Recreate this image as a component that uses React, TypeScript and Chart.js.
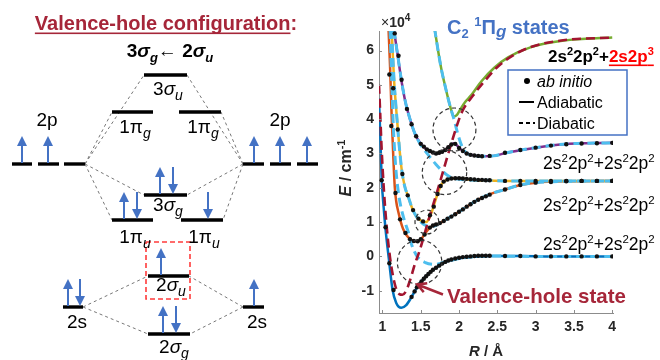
import React, { useEffect, useRef } from "react";
import { Chart, registerables } from "chart.js";

Chart.register(...registerables);

const FONT = "'Liberation Sans', Arial, Helvetica, sans-serif";

/* ================= Right panel data: C2 1Πg states, E in 10^4 cm^-1, R in Å ================= */
const xTicks = [1, 1.5, 2, 2.5, 3, 3.5, 4];
const yTicks = [-1, 0, 1, 2, 3, 4, 5, 6];

// adiabatic curves (solid)
const blueR = [0.955, 0.975, 0.99, 1.015, 1.04, 1.09, 1.13, 1.18, 1.246, 1.31, 1.376, 1.46, 1.55, 1.64, 1.81, 2.0, 2.2, 2.4, 2.8, 3.2, 4.0];
const blueE = [4.6, 3.3, 2.25, 1.45, 0.8, -0.2, -0.95, -1.36, -1.5, -1.42, -1.2, -0.87, -0.62, -0.43, -0.18, -0.06, -0.01, 0.01, 0.01, 0.0, 0.0];

const orangeR = [1.08, 1.1, 1.12, 1.14, 1.16, 1.18, 1.21, 1.24, 1.27, 1.32, 1.37, 1.42, 1.46, 1.51, 1.56, 1.61, 1.66, 1.75, 1.85, 2.0, 2.1, 2.27, 2.45, 2.6, 2.8, 3.0, 3.4, 4.0];
const orangeE = [6.6, 5.5, 4.1, 3.0, 2.05, 1.6, 1.27, 1.0, 0.8, 0.6, 0.49, 0.44, 0.44, 0.52, 0.68, 0.82, 0.9, 0.97, 1.1, 1.3, 1.45, 1.68, 1.85, 1.95, 2.08, 2.15, 2.19, 2.2];

const yellowR = [1.12, 1.15, 1.19, 1.22, 1.25, 1.29, 1.34, 1.38, 1.42, 1.49, 1.57, 1.64, 1.71, 1.77, 1.83, 1.9, 2.0, 2.1, 2.2, 2.4, 2.6, 3.0, 4.0];
const yellowE = [6.6, 5.2, 4.0, 3.2, 2.55, 2.05, 1.72, 1.45, 1.25, 1.06, 1.0, 1.27, 1.76, 2.1, 2.22, 2.27, 2.28, 2.25, 2.23, 2.21, 2.2, 2.2, 2.2];

const purpleR = [1.15, 1.2, 1.25, 1.3, 1.36, 1.42, 1.5, 1.6, 1.7, 1.78, 1.86, 1.93, 1.98, 2.05, 2.14, 2.3, 2.45, 2.62, 3.0, 3.36, 4.0];
const purpleE = [6.6, 5.85, 5.1, 4.5, 4.0, 3.6, 3.28, 3.08, 3.0, 3.05, 3.18, 3.3, 3.22, 3.07, 2.97, 2.92, 2.93, 3.02, 3.17, 3.27, 3.31];

const greenR = [1.68, 1.73, 1.77, 1.82, 1.86, 1.9, 1.93, 1.97, 2.02, 2.08, 2.16, 2.29, 2.46, 2.64, 2.94, 3.37, 4.0];
const greenE = [6.65, 5.95, 5.45, 4.95, 4.58, 4.25, 4.08, 4.12, 4.3, 4.5, 4.7, 5.1, 5.5, 5.8, 6.1, 6.29, 6.38];

// diabatic curves (dashed)
const dia0R = [1.1, 1.12, 1.14, 1.17, 1.2, 1.23, 1.28, 1.34, 1.38, 1.45, 1.56, 1.69, 1.81, 2.0, 2.2, 2.4, 3.0, 4.0];
const dia0E = [6.6, 5.2, 3.9, 2.7, 2.0, 1.56, 1.1, 0.69, 0.35, 0.01, -0.18, -0.23, -0.17, -0.06, -0.01, 0.01, 0.0, 0.0];

const dia1R = [1.12, 1.15, 1.19, 1.22, 1.25, 1.29, 1.34, 1.38, 1.42, 1.48, 1.54, 1.6, 1.66, 1.75, 1.85, 2.0, 2.1, 2.27, 2.45, 2.6, 2.8, 3.0, 3.4, 4.0];
const dia1E = [6.6, 5.2, 4.0, 3.2, 2.55, 2.05, 1.72, 1.45, 1.25, 1.05, 0.93, 0.88, 0.88, 0.97, 1.1, 1.3, 1.45, 1.68, 1.85, 1.95, 2.08, 2.15, 2.19, 2.2];

const dia2R = [1.15, 1.2, 1.25, 1.3, 1.36, 1.42, 1.5, 1.6, 1.7, 1.8, 1.88, 1.96, 2.1, 2.3, 2.6, 3.0, 4.0];
const dia2E = [6.6, 5.85, 5.1, 4.5, 4.0, 3.6, 3.25, 2.95, 2.68, 2.45, 2.32, 2.26, 2.23, 2.22, 2.2, 2.2, 2.2];

const dia3R = [1.68, 1.73, 1.77, 1.82, 1.86, 1.9, 1.94, 1.98, 2.03, 2.08, 2.14, 2.3, 2.45, 2.62, 3.0, 3.36, 4.0];
const dia3E = [6.65, 5.95, 5.45, 4.95, 4.58, 4.25, 3.95, 3.6, 3.25, 3.05, 2.97, 2.92, 2.93, 3.02, 3.17, 3.27, 3.31];

// valence-hole diabatic state
const vhR = [0.955, 0.97, 0.99, 1.02, 1.06, 1.1, 1.14, 1.18, 1.22, 1.26, 1.31, 1.36, 1.42, 1.49, 1.6, 1.72, 1.86, 1.97, 2.04, 2.18, 2.33, 2.49, 2.7, 2.93, 3.36, 4.0];
const vhE = [5.0, 4.2, 3.1, 1.9, 0.75, -0.05, -0.6, -0.95, -1.1, -1.12, -1.0, -0.7, -0.25, 0.2, 1.05, 1.93, 3.0, 3.8, 4.22, 4.68, 5.1, 5.5, 5.85, 6.1, 6.3, 6.38];

// ab initio points
const dotR = [
  0.99, 1.04, 1.09, 1.145,
  1.38, 1.42, 1.45, 1.48, 1.51, 1.54, 1.57, 1.6, 1.63, 1.66, 1.7, 1.74, 1.78, 1.82, 1.86, 1.9, 1.95, 2.0, 2.05, 2.1, 2.15, 2.2, 2.25, 2.3, 2.35, 2.4,
  2.6, 2.8, 3.0, 3.2, 3.4, 3.6, 3.8, 4.0,
  1.09, 1.115, 1.17, 1.23, 1.3, 1.36, 1.41, 1.46, 1.5, 1.55,
  1.62, 1.66, 1.7, 1.75, 1.8, 1.85, 1.9, 1.95, 2.0, 2.05, 2.1, 2.15, 2.2, 2.25, 2.3, 2.35, 2.4, 2.6, 2.8, 3.0, 3.2, 3.4, 3.6, 3.8, 4.0,
  1.14, 1.2, 1.26, 1.33, 1.4, 1.47, 1.53, 1.62, 1.67, 1.72,
  1.76, 1.8, 1.85, 1.9, 1.95, 2.0, 2.05, 2.1, 2.15, 2.2, 2.25, 2.3, 2.35, 2.4, 2.6, 2.8, 3.0, 3.2, 3.4, 3.6, 3.8, 4.0,
  1.16, 1.21, 1.25, 1.32, 1.38, 1.44, 1.5, 1.54, 1.58, 1.62, 1.66, 1.7, 1.74, 1.78, 1.82, 1.86, 1.9, 1.95, 2.0, 2.05, 2.1, 2.15, 2.2, 2.25, 2.3, 2.4, 2.6, 2.8, 3.0, 3.2, 3.4, 3.6, 3.8, 4.0,
];
const dotE = [
  2.22, 0.85, -0.2, -0.98,
  -1.18, -1.02, -0.9, -0.82, -0.73, -0.65, -0.58, -0.51, -0.45, -0.39, -0.33, -0.27, -0.21, -0.16, -0.12, -0.09, -0.06, -0.04, -0.02, -0.01, 0.0, 0.01, 0.02, 0.02, 0.02, 0.02,
  0.01, 0.01, 0.0, 0.0, 0.0, 0.0, 0.0, 0.0,
  5.3, 3.8, 1.85, 1.08, 0.68, 0.5, 0.45, 0.44, 0.5, 0.64,
  0.84, 0.9, 0.93, 0.97, 1.03, 1.1, 1.16, 1.23, 1.3, 1.37, 1.45, 1.52, 1.59, 1.65, 1.7, 1.75, 1.8, 1.95, 2.08, 2.15, 2.17, 2.19, 2.2, 2.2, 2.2,
  4.9, 3.7, 2.4, 1.78, 1.35, 1.1, 1.02, 1.2, 1.45, 1.82,
  2.05, 2.18, 2.24, 2.27, 2.28, 2.28, 2.27, 2.26, 2.25, 2.24, 2.23, 2.23, 2.22, 2.22, 2.2, 2.2, 2.2, 2.2, 2.2, 2.2, 2.2, 2.2,
  6.5, 5.85, 5.15, 4.3, 3.85, 3.5, 3.28, 3.2, 3.12, 3.07, 3.03, 3.0, 3.02, 3.05, 3.1, 3.18, 3.26, 3.28, 3.16, 3.07, 3.0, 2.96, 2.94, 2.93, 2.92, 2.93, 3.02, 3.1, 3.17, 3.23, 3.27, 3.29, 3.3, 3.31,
];

// avoided-crossing circles (centre R, centre E, radius in Å)
const circleR = [1.94, 1.81, 1.58, 1.485];
const circleE = [3.7, 2.45, 1.0, -0.17];
const circleSize = [0.28, 0.29, 0.155, 0.29];

/* ================= Left panel data: MO diagram ================= */
// levels: x from, x to, vertical position (diagram units, downward)
const levelX1 = [144, 112, 179, 144, 112, 181, 148, 148, 12, 38, 64, 243, 270, 297, 63, 243];
const levelX2 = [187, 153, 221, 187, 153, 223, 189, 190, 32, 59, 85, 264, 291, 318, 83, 264];
const levelY = [75, 112, 112, 195, 220, 220, 276, 334, 164, 164, 164, 164, 164, 164, 307, 307];

// correlation lines
const linkX1 = [85, 85, 85, 85, 243, 243, 243, 243, 83, 83, 243, 243];
const linkY1 = [164, 164, 164, 164, 164, 164, 164, 164, 307, 307, 307, 307];
const linkX2 = [144, 112, 144, 112, 187, 221, 187, 223, 148, 148, 189, 190];
const linkY2 = [75, 112, 195, 220, 75, 112, 195, 220, 276, 334, 276, 334];

// electrons: x, level position, spin (1 up, -1 down)
const elecX = [22, 48, 254, 280, 307, 160, 173, 124, 137, 208, 161, 68, 80, 254, 163, 176];
const elecY = [164, 164, 164, 164, 164, 195, 195, 220, 220, 220, 276, 307, 307, 307, 334, 334];
const elecSpin = [1, 1, 1, 1, 1, 1, -1, 1, -1, -1, 1, 1, -1, 1, 1, -1];

// highlighted orbital box
const boxX = [146, 190, 190, 146, 146];
const boxY = [242, 242, 299, 299, 242];

// orbital labels: number, letter, subscript, centre x, baseline
const labNum = ["3", "1", "1", "3", "1", "1", "2", "2", "2", "2", "2", "2"];
const labMain = ["σ", "π", "π", "σ", "π", "π", "σ", "σ", "p", "p", "s", "s"];
const labSub = ["u", "g", "g", "g", "u", "u", "u", "g", "", "", "", ""];
const labX = [168, 135, 203, 168, 135, 204, 171, 174, 47, 280, 77, 257];
const labY = [95, 133, 133, 211, 243, 243, 291, 353, 126, 126, 328, 328];

/* ================= drawing helpers ================= */
type Part = { t: string; size: number; bold?: boolean; italic?: boolean; dy?: number; color?: string; underline?: boolean };

function fontOf(p: Part) {
  return `${p.italic ? "italic " : ""}${p.bold ? "bold " : ""}${p.size}px ${FONT}`;
}

function drawRich(ctx: CanvasRenderingContext2D, parts: Part[], x: number, y: number, align: "left" | "center" | "right", color: string) {
  ctx.save();
  ctx.textBaseline = "alphabetic";
  ctx.textAlign = "left";
  const widths = parts.map((p) => {
    ctx.font = fontOf(p);
    return ctx.measureText(p.t).width;
  });
  const total = widths.reduce((a, b) => a + b, 0);
  let cx = align === "left" ? x : align === "center" ? x - total / 2 : x - total;
  parts.forEach((p, i) => {
    ctx.font = fontOf(p);
    ctx.fillStyle = p.color || color;
    ctx.fillText(p.t, cx, y + (p.dy || 0));
    if (p.underline) {
      ctx.fillRect(cx, y + 2.5, widths[i], 1.6);
    }
    cx += widths[i];
  });
  ctx.restore();
  return total;
}

const pts = (r: number[], e: number[]) => r.map((v, i) => ({ x: v, y: e[i] }));

/* ================= left chart ================= */
const ARROW_BLUE = "#4472C4";

const moPlugin = {
  id: "moPlugin",
  afterDatasetsDraw(chart: any) {
    const ctx: CanvasRenderingContext2D = chart.ctx;
    const xs = chart.scales.x;
    const ys = chart.scales.y;
    ctx.save();
    // electrons
    elecX.forEach((ex, i) => {
      const px = xs.getPixelForValue(ex);
      const base = ys.getPixelForValue(elecY[i]);
      const len = 28;
      const head = 10;
      const hw = 5;
      ctx.strokeStyle = ARROW_BLUE;
      ctx.fillStyle = ARROW_BLUE;
      ctx.lineWidth = 2;
      ctx.beginPath();
      if (elecSpin[i] > 0) {
        const tip = base - len;
        ctx.moveTo(px, base - 1);
        ctx.lineTo(px, tip + head - 1);
        ctx.stroke();
        ctx.beginPath();
        ctx.moveTo(px, tip);
        ctx.lineTo(px - hw, tip + head);
        ctx.lineTo(px + hw, tip + head);
        ctx.closePath();
        ctx.fill();
      } else {
        const tip = base - 1;
        ctx.moveTo(px, base - len);
        ctx.lineTo(px, tip - head + 1);
        ctx.stroke();
        ctx.beginPath();
        ctx.moveTo(px, tip);
        ctx.lineTo(px - hw, tip - head);
        ctx.lineTo(px + hw, tip - head);
        ctx.closePath();
        ctx.fill();
      }
    });
    // orbital labels
    labNum.forEach((n, i) => {
      const parts: Part[] = [
        { t: n, size: 19 },
        { t: labMain[i], size: 19, italic: labMain[i] === "σ" },
      ];
      if (labSub[i]) parts.push({ t: labSub[i], size: 14, italic: true, dy: 5 });
      drawRich(ctx, parts, xs.getPixelForValue(labX[i]), ys.getPixelForValue(labY[i]), "center", "#000");
    });
    // title
    const tc = "#A62639";
    drawRich(
      ctx,
      [
        { t: "Valence-hole configuration", size: 20, bold: true, underline: true },
        { t: ":", size: 20, bold: true },
      ],
      xs.getPixelForValue(166),
      ys.getPixelForValue(30),
      "center",
      tc
    );
    drawRich(
      ctx,
      [
        { t: "3", size: 19, bold: true },
        { t: "σ", size: 19, bold: true, italic: true },
        { t: "g", size: 13, bold: true, italic: true, dy: 5 },
        { t: "← 2", size: 19, bold: true },
        { t: "σ", size: 19, bold: true, italic: true },
        { t: "u", size: 13, bold: true, italic: true, dy: 5 },
      ],
      xs.getPixelForValue(170),
      ys.getPixelForValue(57),
      "center",
      "#000"
    );
    ctx.restore();
  },
};

function leftConfig(): any {
  const datasets: any[] = [];
  levelX1.forEach((x1, i) => {
    datasets.push({
      data: [
        { x: x1, y: levelY[i] },
        { x: levelX2[i], y: levelY[i] },
      ],
      borderColor: "#000",
      borderWidth: 3.4,
      pointRadius: 0,
      borderCapStyle: "butt",
      order: 1,
    });
  });
  linkX1.forEach((x1, i) => {
    datasets.push({
      data: [
        { x: x1, y: linkY1[i] },
        { x: linkX2[i], y: linkY2[i] },
      ],
      borderColor: "#777",
      borderWidth: 1,
      borderDash: [3, 3],
      pointRadius: 0,
      order: 3,
    });
  });
  datasets.push({
    data: pts(boxX, boxY),
    borderColor: "#FF3B3B",
    borderWidth: 1.6,
    borderDash: [5, 3],
    pointRadius: 0,
    order: 2,
  });
  return {
    type: "line",
    data: { datasets },
    options: {
      animation: false,
      responsive: false,
      maintainAspectRatio: false,
      layout: { padding: 0 },
      plugins: { legend: { display: false }, tooltip: { enabled: false } },
      scales: {
        x: { type: "linear", min: 0, max: 330, display: false },
        y: { type: "linear", min: 0, max: 360, reverse: true, display: false },
      },
      elements: { line: { tension: 0 } },
    },
    plugins: [moPlugin],
  };
}

/* ================= right chart ================= */
const C_BLUE = "#0072BD";
const C_ORANGE = "#D95319";
const C_YELLOW = "#EDB120";
const C_PURPLE = "#7E2F8E";
const C_GREEN = "#77AC30";
const C_LIGHT = "#4DBEEE";
const C_CRIMSON = "#A2142F";
const C_TEXTRED = "#A62639";

const pePlugin = {
  id: "pePlugin",
  afterDatasetsDraw(chart: any) {
    const ctx: CanvasRenderingContext2D = chart.ctx;
    const xs = chart.scales.x;
    const ys = chart.scales.y;
    const ca = chart.chartArea;
    ctx.save();
    // inward tick marks
    ctx.strokeStyle = "#8c8c8c";
    ctx.lineWidth = 1;
    xTicks.forEach((v) => {
      const px = Math.round(xs.getPixelForValue(v)) + 0.5;
      ctx.beginPath();
      ctx.moveTo(px, ca.bottom);
      ctx.lineTo(px, ca.bottom - 3);
      ctx.stroke();
    });
    yTicks.forEach((v) => {
      const py = Math.round(ys.getPixelForValue(v)) + 0.5;
      ctx.beginPath();
      ctx.moveTo(ca.left, py);
      ctx.lineTo(ca.left + 3, py);
      ctx.stroke();
    });
    // dashed circles
    ctx.strokeStyle = "#333";
    ctx.lineWidth = 1.2;
    ctx.setLineDash([4, 3]);
    circleR.forEach((cr, i) => {
      const px = xs.getPixelForValue(cr);
      const py = ys.getPixelForValue(circleE[i]);
      const rad = xs.getPixelForValue(cr + circleSize[i]) - px;
      ctx.beginPath();
      ctx.arc(px, py, rad, 0, Math.PI * 2);
      ctx.stroke();
    });
    ctx.setLineDash([]);

    // legend box
    const lx = 178;
    const ly = 70;
    const lw = 119;
    const lh = 65;
    ctx.fillStyle = "#fff";
    ctx.fillRect(lx, ly, lw, lh);
    ctx.strokeStyle = "#4472C4";
    ctx.lineWidth = 1.5;
    ctx.strokeRect(lx, ly, lw, lh);
    ctx.fillStyle = "#000";
    ctx.beginPath();
    ctx.arc(lx + 19, ly + 11, 3, 0, Math.PI * 2);
    ctx.fill();
    ctx.strokeStyle = "#000";
    ctx.lineWidth = 2;
    ctx.beginPath();
    ctx.moveTo(lx + 11, ly + 32);
    ctx.lineTo(lx + 26, ly + 32);
    ctx.stroke();
    ctx.setLineDash([4, 3]);
    ctx.beginPath();
    ctx.moveTo(lx + 11, ly + 53);
    ctx.lineTo(lx + 27, ly + 53);
    ctx.stroke();
    ctx.setLineDash([]);
    drawRich(ctx, [{ t: "ab initio", size: 16, italic: true }], lx + 29, ly + 17, "left", "#000");
    drawRich(ctx, [{ t: "Adiabatic", size: 16 }], lx + 29, ly + 38, "left", "#000");
    drawRich(ctx, [{ t: "Diabatic", size: 16 }], lx + 29, ly + 59, "left", "#000");

    // state labels
    drawRich(
      ctx,
      [
        { t: "2s", size: 17, bold: true },
        { t: "2", size: 11, bold: true, dy: -7 },
        { t: "2p", size: 17, bold: true },
        { t: "2", size: 11, bold: true, dy: -7 },
        { t: "+", size: 17, bold: true },
        { t: "2s2p", size: 17, bold: true, color: "#FF0000", underline: true },
        { t: "3", size: 11, bold: true, dy: -7, color: "#FF0000", underline: true },
      ],
      218,
      62,
      "left",
      "#000"
    );
    const conf: Part[] = [
      { t: "2s", size: 17.5 },
      { t: "2", size: 11.5, dy: -7 },
      { t: "2p", size: 17.5 },
      { t: "2", size: 11.5, dy: -7 },
      { t: "+2s", size: 17.5 },
      { t: "2", size: 11.5, dy: -7 },
      { t: "2p", size: 17.5 },
      { t: "2", size: 11.5, dy: -7 },
    ];
    drawRich(ctx, conf, 213, 169, "left", "#000");
    drawRich(ctx, conf, 213, 211, "left", "#000");
    drawRich(ctx, conf, 213, 250, "left", "#000");

    // title of states
    drawRich(
      ctx,
      [
        { t: "C", size: 20, bold: true },
        { t: "2", size: 13, bold: true, dy: 4 },
        { t: " ", size: 20, bold: true },
        { t: "1", size: 13, bold: true, dy: -8 },
        { t: "Π", size: 20, bold: true },
        { t: "g", size: 17, bold: true, italic: true, dy: 3 },
        { t: " states", size: 20, bold: true },
      ],
      117,
      34,
      "left",
      "#4472C4"
    );

    // valence-hole label and arrow
    drawRich(ctx, [{ t: "Valence-hole state", size: 20.5, bold: true }], 117, 303, "left", C_TEXTRED);
    const tipX = xs.getPixelForValue(1.455);
    const tipY = ys.getPixelForValue(-0.82);
    const tailX = xs.getPixelForValue(1.79);
    const tailY = ys.getPixelForValue(-1.11);
    ctx.strokeStyle = C_TEXTRED;
    ctx.lineWidth = 2.5;
    ctx.beginPath();
    ctx.moveTo(tailX, tailY);
    ctx.lineTo(tipX, tipY);
    const ang = Math.atan2(tipY - tailY, tipX - tailX);
    const hl = 10;
    ctx.moveTo(tipX - hl * Math.cos(ang - 0.5), tipY - hl * Math.sin(ang - 0.5));
    ctx.lineTo(tipX, tipY);
    ctx.lineTo(tipX - hl * Math.cos(ang + 0.5), tipY - hl * Math.sin(ang + 0.5));
    ctx.stroke();

    // exponent label
    drawRich(
      ctx,
      [
        { t: "×", size: 14 },
        { t: "10", size: 14, bold: true },
        { t: "4", size: 10, bold: true, dy: -6 },
      ],
      51,
      27,
      "left",
      "#262626"
    );
    // axis titles
    drawRich(
      ctx,
      [
        { t: "R", size: 15, bold: true, italic: true },
        { t: " / Å", size: 15, bold: true },
      ],
      156,
      356,
      "center",
      "#262626"
    );
    ctx.save();
    ctx.translate(21, 168);
    ctx.rotate(-Math.PI / 2);
    drawRich(
      ctx,
      [
        { t: "E", size: 16, bold: true, italic: true },
        { t: " / cm", size: 16, bold: true },
        { t: "-1", size: 11, bold: true, dy: -6 },
      ],
      0,
      0,
      "center",
      "#262626"
    );
    ctx.restore();
    ctx.restore();
  },
};

function curve(r: number[], e: number[], color: string, dashed: boolean, order: number, width?: number): any {
  return {
    data: pts(r, e),
    borderColor: color,
    borderWidth: width || (dashed ? 3 : 2.5),
    borderDash: dashed ? [9, 5] : [],
    pointRadius: 0,
    cubicInterpolationMode: "monotone",
    order,
  };
}

function rightConfig(): any {
  const tickFont = { family: FONT, size: 14, weight: "bold" };
  const datasets = [
    {
      data: pts(dotR, dotE),
      showLine: false,
      pointRadius: 2.2,
      pointBackgroundColor: "#111",
      pointBorderColor: "#111",
      pointBorderWidth: 0,
      order: 0,
    },
    curve(vhR, vhE, C_CRIMSON, true, 1, 2.6),
    curve(dia0R, dia0E, C_LIGHT, true, 2),
    curve(dia1R, dia1E, C_LIGHT, true, 2),
    curve(dia2R, dia2E, C_LIGHT, true, 2),
    curve(dia3R, dia3E, C_LIGHT, true, 2),
    curve(greenR, greenE, C_GREEN, false, 3),
    curve(purpleR, purpleE, C_PURPLE, false, 3),
    curve(yellowR, yellowE, C_YELLOW, false, 3),
    curve(orangeR, orangeE, C_ORANGE, false, 3),
    curve(blueR, blueE, C_BLUE, false, 3),
  ];
  return {
    type: "line",
    data: { datasets },
    options: {
      animation: false,
      responsive: false,
      maintainAspectRatio: false,
      layout: { padding: { left: 0, right: 47, top: 31, bottom: 0 } },
      plugins: { legend: { display: false }, tooltip: { enabled: false } },
      scales: {
        x: {
          type: "linear",
          min: 0.955,
          max: 4.01,
          afterBuildTicks: (s: any) => {
            s.ticks = xTicks.map((v) => ({ value: v }));
          },
          afterFit: (s: any) => {
            s.height = 47;
          },
          grid: { display: true, drawOnChartArea: false, drawTicks: false, color: "rgba(0,0,0,0)" },
          border: { display: true, color: "#8c8c8c", width: 1 },
          ticks: { padding: 6, font: tickFont, color: "#262626", callback: (v: any) => String(v), maxRotation: 0, autoSkip: false },
        },
        y: {
          type: "linear",
          min: -1.65,
          max: 6.57,
          afterBuildTicks: (s: any) => {
            s.ticks = yTicks.map((v) => ({ value: v }));
          },
          afterFit: (s: any) => {
            s.width = 49;
          },
          grid: { display: true, drawOnChartArea: false, drawTicks: false, color: "rgba(0,0,0,0)" },
          border: { display: true, color: "#8c8c8c", width: 1 },
          ticks: { padding: 5, font: tickFont, color: "#262626", callback: (v: any) => String(v), autoSkip: false },
        },
      },
    },
    plugins: [pePlugin],
  };
}

export default function App() {
  const leftRef = useRef<HTMLCanvasElement>(null);
  const rightRef = useRef<HTMLCanvasElement>(null);
  useEffect(() => {
    const l = new Chart(leftRef.current as HTMLCanvasElement, leftConfig());
    const r = new Chart(rightRef.current as HTMLCanvasElement, rightConfig());
    return () => {
      l.destroy();
      r.destroy();
    };
  }, []);
  return (
    <div style={{ position: "fixed", left: 0, top: 0, width: 660, height: 360, background: "#fff", overflow: "hidden" }}>
      <canvas ref={leftRef} width={330} height={360} style={{ position: "absolute", left: 0, top: 0, width: 330, height: 360 }} />
      <canvas ref={rightRef} width={330} height={360} style={{ position: "absolute", left: 330, top: 0, width: 330, height: 360 }} />
    </div>
  );
}
